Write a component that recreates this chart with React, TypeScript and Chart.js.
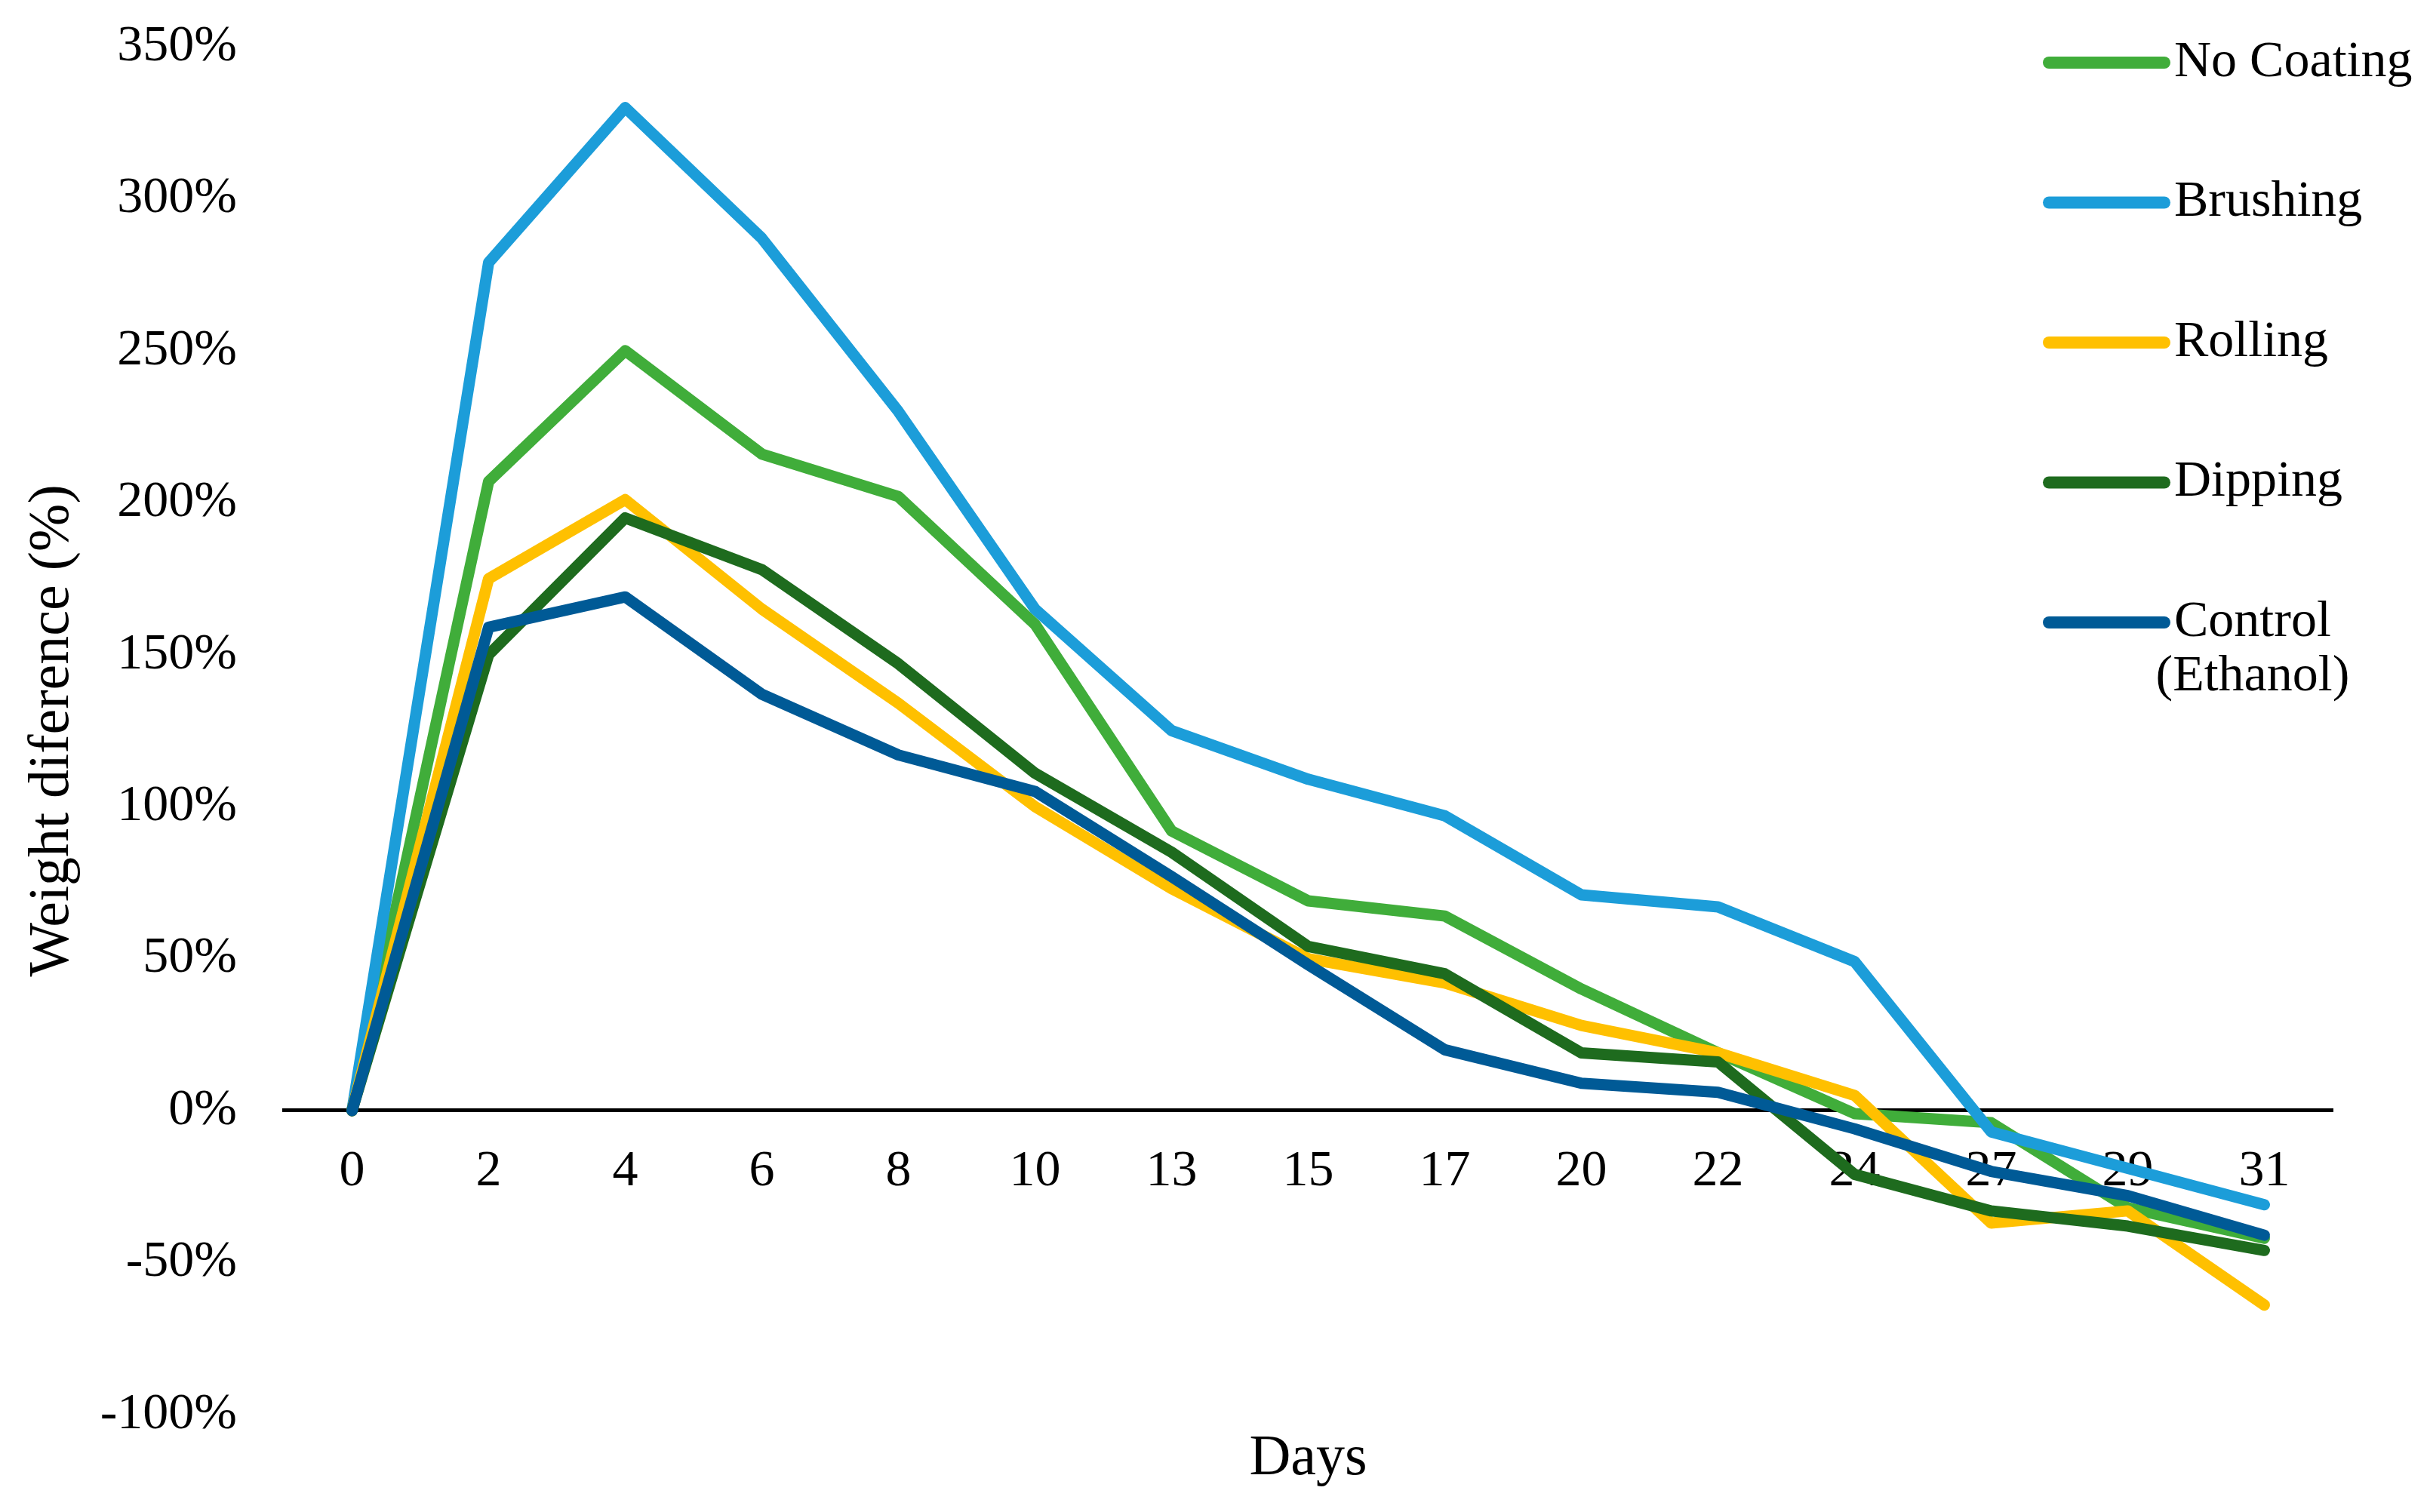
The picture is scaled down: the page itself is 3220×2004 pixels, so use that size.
import React, { useEffect, useRef } from "react";
import { Chart, registerables } from "chart.js";

Chart.register(...registerables);

const days = ["0", "2", "4", "6", "8", "10", "13", "15", "17", "20", "22", "24", "27", "29", "31"];

const noCoating = [0, 207, 250, 216, 202, 160, 92, 69, 64, 40, 19, -1, -4, -32, -42];
const brushing = [0, 279, 330, 287, 230, 165, 125, 109, 97, 71, 67, 49, -7, -19, -31];
const rolling = [0, 175, 201, 165, 134, 100, 73, 50, 42, 28, 19, 5, -37, -33, -64];
const dipping = [0, 150, 195, 178, 147, 111, 85, 54, 45, 19, 16, -21, -33, -38, -46];
const control = [0, 159, 169, 137, 117, 105, 77, 48, 20, 9, 6, -6, -20, -28, -41];

const seriesNames = ["No Coating", "Brushing", "Rolling", "Dipping", "Control"];
const seriesColors = ["#40AD3A", "#1C9DD9", "#FFC000", "#1E6B1E", "#005A96"];
const seriesData = [noCoating, brushing, rolling, dipping, control];

const yTitle = "Weight diference (%)";
const xTitle = "Days";
const legendLabels = [["No Coating"], ["Brushing"], ["Rolling"], ["Dipping"], ["Control", "(Ethanol)"]];

const FONT = "'Liberation Serif', 'Times New Roman', serif";

const legendPlugin = {
  id: "customLegend",
  afterDraw(chart: any) {
    const ctx = chart.ctx;
    ctx.save();
    const x0 = 2715;
    const x1 = 2868;
    const tx = 2881;
    const yStart = 83;
    const step = 185.5;
    ctx.font = `68px ${FONT}`;
    ctx.textBaseline = "middle";
    legendLabels.forEach((lines, i) => {
      const y = yStart + i * step;
      ctx.strokeStyle = seriesColors[i];
      ctx.lineWidth = 16;
      ctx.lineCap = "round";
      ctx.beginPath();
      ctx.moveTo(x0, y);
      ctx.lineTo(x1, y);
      ctx.stroke();
      ctx.fillStyle = "#000";
      ctx.textAlign = "left";
      ctx.fillText(lines[0], tx, y);
      if (lines.length > 1) {
        const w0 = ctx.measureText(lines[0]).width;
        ctx.textAlign = "center";
        ctx.fillText(lines[1], tx + w0 / 2, y + 72);
      }
    });
    ctx.restore();
  },
};

export default function App() {
  const canvasRef = useRef<HTMLCanvasElement | null>(null);

  useEffect(() => {
    if (!canvasRef.current) return;
    const chart = new Chart(canvasRef.current, {
      type: "line",
      data: {
        labels: days,
        datasets: seriesData.map((d, i) => ({
          label: seriesNames[i],
          data: d,
          borderColor: seriesColors[i],
          backgroundColor: seriesColors[i],
          borderWidth: 15,
          pointRadius: 0,
          pointHoverRadius: 0,
          tension: 0,
          borderJoinStyle: "round" as const,
          borderCapStyle: "round" as const,
          order: seriesData.length - 1 - i,
          clip: false as any,
        })),
      },
      options: {
        animation: false,
        responsive: true,
        maintainAspectRatio: false,
        devicePixelRatio: 1,
        layout: { padding: { top: 62, left: 24, right: 129, bottom: 0 } },
        plugins: {
          legend: { display: false },
          tooltip: { enabled: false },
          title: {
            display: true,
            text: xTitle,
            position: "bottom",
            fullSize: false,
            color: "#000",
            font: { family: FONT, size: 76, weight: "normal" },
            padding: { top: 14, bottom: 24 },
          },
        },
        scales: {
          x: {
            type: "category",
            offset: true,
            position: { y: 0 } as any,
            grid: { display: false, drawTicks: false },
            border: { display: true, color: "#000", width: 5 },
            ticks: {
              color: "#000",
              font: { family: FONT, size: 68 },
              padding: 40,
              maxRotation: 0,
              autoSkip: false,
            },
          },
          y: {
            min: -100,
            max: 350,
            grid: { display: false, drawTicks: false },
            border: { display: false },
            afterFit: (scale: any) => {
              scale.width = 352;
              scale.paddingTop = 0;
              scale.paddingBottom = 0;
            },
            ticks: {
              stepSize: 50,
              color: "#000",
              font: { family: FONT, size: 68 },
              padding: 62,
              callback: (v: any) => `${v}%`,
            },
            title: {
              display: true,
              text: yTitle,
              color: "#000",
              font: { family: FONT, size: 76, weight: "normal" },
              padding: { top: 0, bottom: 0 },
            },
          },
        },
      },
      plugins: [legendPlugin],
    });
    return () => chart.destroy();
  }, []);

  return (
    <div style={{ position: "absolute", left: 0, top: 0, width: 3220, height: 2004, background: "#fff" }}>
      <canvas ref={canvasRef} />
    </div>
  );
}
